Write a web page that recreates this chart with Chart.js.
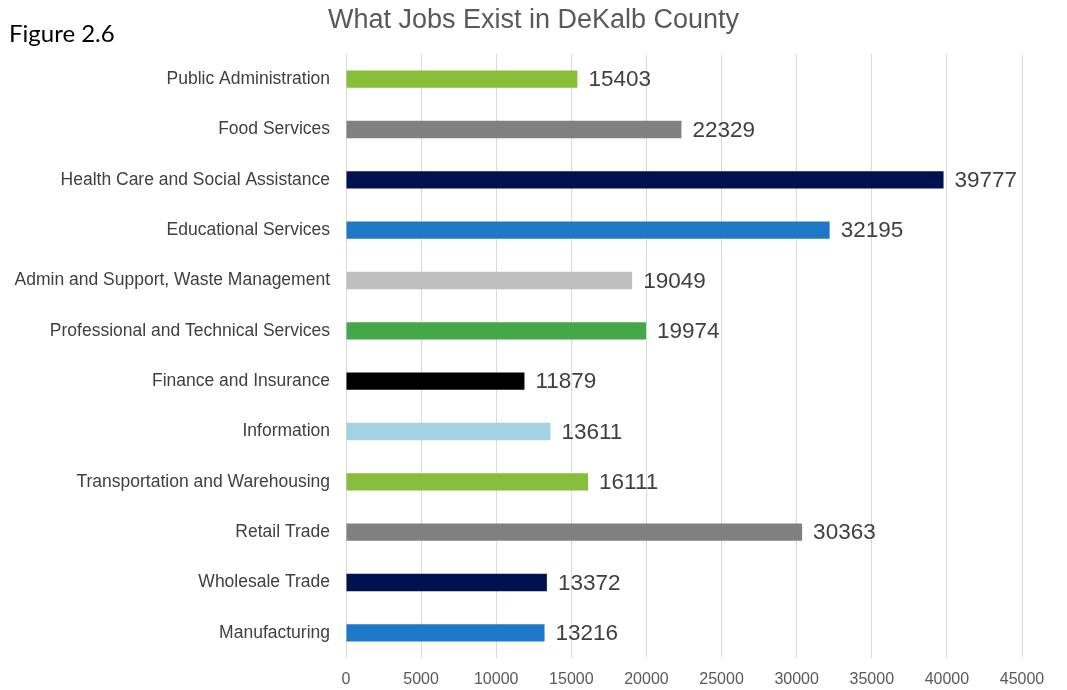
<!DOCTYPE html>
<html>
<head>
<meta charset="utf-8">
<title>What Jobs Exist in DeKalb County</title>
<script src="https://cdn.jsdelivr.net/npm/chart.js@4.4.1/dist/chart.umd.min.js"></script>
<style>
  html, body { margin: 0; padding: 0; background: #ffffff; }
  #wrap { position: relative; width: 1067px; height: 690px; }
</style>
</head>
<body>
<div id="wrap"><canvas id="jobsChart"></canvas></div>
<script>
// Industry categories, top to bottom as in the figure
const industries = [
    'Public Administration',
    'Food Services',
    'Health Care and Social Assistance',
    'Educational Services',
    'Admin and Support, Waste Management',
    'Professional and Technical Services',
    'Finance and Insurance',
    'Information',
    'Transportation and Warehousing',
    'Retail Trade',
    'Wholesale Trade',
    'Manufacturing'
];

// Number of jobs per industry
const jobCounts = [15403, 22329, 39777, 32195, 19049, 19974, 11879, 13611, 16111, 30363, 13372, 13216];

// Bar colour per industry
const barColors = [
    '#88bf3a', '#808080', '#00114f', '#1e78c6',
    '#bfbfbf', '#44a84b', '#000000', '#a5d1e4',
    '#88bf3a', '#808080', '#00114f', '#1e78c6'
];

const xTickStep = 5000;
const xMax = 45000;
const chartTitle = 'What Jobs Exist in DeKalb County';
const figureLabel = 'Figure 2.6';

// Draws the value next to the end of each bar (no datalabels plugin here)
const valueLabels = {
    id: 'valueLabels',
    afterDatasetsDraw(chart) {
        const ctx = chart.ctx;
        const meta = chart.getDatasetMeta(0);
        ctx.save();
        ctx.font = '22.5px "Liberation Sans", Arial, sans-serif';
        ctx.fillStyle = '#404040';
        ctx.textAlign = 'left';
        ctx.textBaseline = 'middle';
        meta.data.forEach((bar, i) => {
            ctx.fillText(String(jobCounts[i]), bar.x + 11, bar.y + 1);
        });
        ctx.restore();
    }
};

// Title centred on the whole canvas plus the "Figure 2.6" caption
const headerText = {
    id: 'headerText',
    afterDraw(chart) {
        const ctx = chart.ctx;
        ctx.save();
        ctx.textBaseline = 'middle';
        ctx.font = '27px "Liberation Sans", Arial, sans-serif';
        ctx.fillStyle = '#595959';
        ctx.textAlign = 'center';
        ctx.fillText(chartTitle, chart.width / 2, 21);

        ctx.font = '24px Lato, "Open Sans", sans-serif';
        ctx.fillStyle = '#000000';
        ctx.textAlign = 'left';
        ctx.fillText(figureLabel, 9, 34);
        ctx.restore();
    }
};

const ctx = document.getElementById('jobsChart').getContext('2d');
new Chart(ctx, {
    type: 'bar',
    data: {
        labels: industries,
        datasets: [{
            data: jobCounts,
            backgroundColor: barColors,
            borderWidth: 0,
            barPercentage: 0.7,
            categoryPercentage: 0.49
        }]
    },
    options: {
        indexAxis: 'y',
        responsive: true,
        maintainAspectRatio: false,
        animation: false,
        devicePixelRatio: 1,
        layout: {
            padding: { left: 0, right: 45, top: 54, bottom: 1 }
        },
        scales: {
            x: {
                min: 0,
                max: xMax,
                border: { display: false },
                grid: { color: '#d9d9d9', drawTicks: false },
                ticks: {
                    stepSize: xTickStep,
                    padding: 12,
                    color: '#595959',
                    font: { family: '"Liberation Sans", Arial, sans-serif', size: 16 },
                    callback: (value) => String(value)
                },
                afterFit(scale) { scale.height = 31; }
            },
            y: {
                border: { display: false },
                grid: { display: false, drawTicks: false },
                ticks: {
                    padding: 16,
                    color: '#404040',
                    font: { family: '"Liberation Sans", Arial, sans-serif', size: 17.5 }
                },
                afterFit(scale) { scale.width = 346; }
            }
        },
        plugins: {
            legend: { display: false },
            tooltip: { enabled: false },
            title: { display: false }
        }
    },
    plugins: [valueLabels, headerText]
});
</script>
</body>
</html>
